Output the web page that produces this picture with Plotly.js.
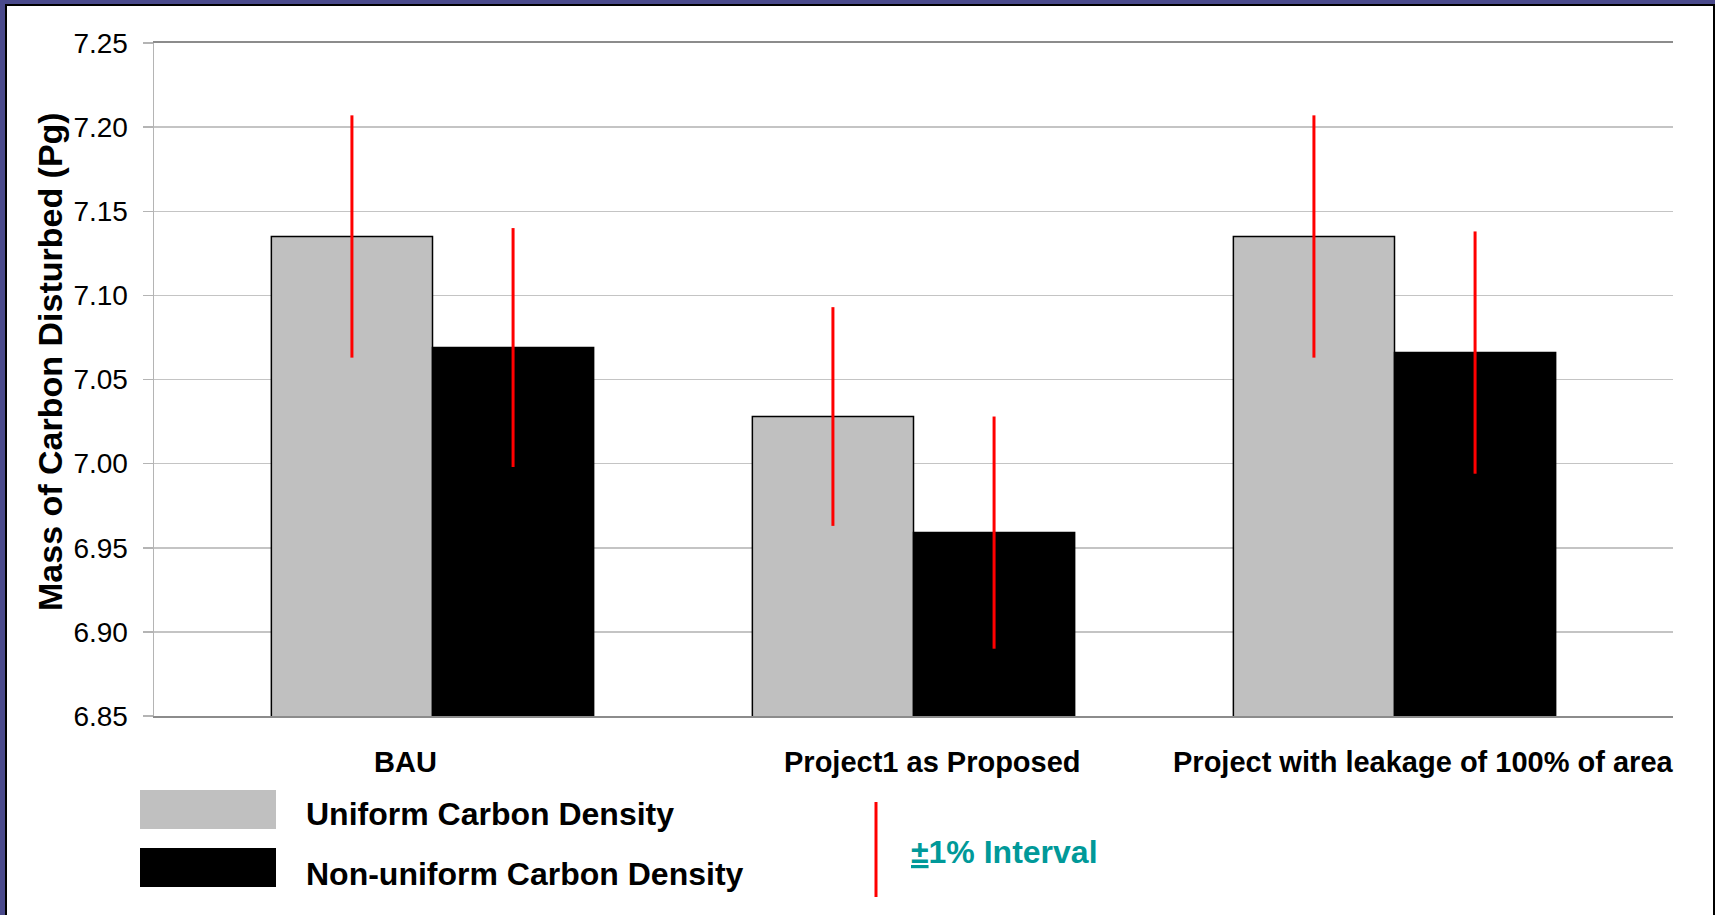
<!DOCTYPE html>
<html><head><meta charset="utf-8">
<script src="https://cdn.plot.ly/plotly-3.0.1.min.js"></script>
<style>
html,body{margin:0;padding:0;width:1715px;height:915px;overflow:hidden;background:#4a4a8c;}
#frame{position:absolute;left:5px;top:4px;width:1706px;height:909px;border-left:2px solid #000;border-top:2px solid #000;border-right:2px solid #000;background:#fff;}
#chart{width:1706px;height:909px;}
</style></head><body><div id="frame"><div id="chart"></div></div>
<script>
// ---- data ----
const categories = ["BAU", "Project1 as Proposed", "Project with leakage of 100% of area"];
const uniformName = "Uniform Carbon Density";
const nonUniformName = "Non-uniform Carbon Density";
const uniformValues = [7.135, 7.028, 7.135];
const nonUniformValues = [7.069, 6.959, 7.066];
const uniformErr = [0.072, 0.065, 0.072];
const nonUniformErr = [0.071, 0.069, 0.072];
const yTickVals = [6.85, 6.90, 6.95, 7.00, 7.05, 7.10, 7.15, 7.20, 7.25];
const yTitle = "Mass of Carbon Disturbed (Pg)";
const intervalLabel = "<u>±</u>1% Interval";

// ---- layout helpers (pixel -> paper, inner chart coords) ----
const W = 1706, H = 909, ML = 147, MR = 40, MT = 37, MB = 199;
const PW = W - ML - MR, PH = H - MT - MB;
const px = X => (X - ML) / PW;
const py = Y => (MT + PH - Y) / PH;
const FONT = '"Liberation Sans", Arial, sans-serif';

const traces = [
  {type:'bar', name:uniformName, x:[0,1,2], y:uniformValues,
   marker:{color:'#c0c0c0', line:{color:'#000', width:1.5}},
   error_y:{type:'data', array:uniformErr, visible:true, color:'#ff0000', thickness:3, width:0},
   hoverinfo:'y'},
  {type:'bar', name:nonUniformName, x:[0,1,2], y:nonUniformValues,
   marker:{color:'#000000', line:{color:'#000', width:1.5}},
   error_y:{type:'data', array:nonUniformErr, visible:true, color:'#ff0000', thickness:3, width:0},
   hoverinfo:'y'}
];

const labelShift = [-27, 19, 29];
const annotations = categories.map((c, i) => ({
  text:'<b>' + c + '</b>', x:i, xref:'x', y:0, yref:'paper', yshift:-46,
  xshift:labelShift[i], showarrow:false, xanchor:'center', yanchor:'middle',
  font:{family:FONT, size:29, color:'#000'}
}));
annotations.push(
  {text:'<b>' + yTitle + '</b>', x:px(43), y:py(356), xref:'paper', yref:'paper',
   textangle:-90, showarrow:false, xanchor:'center', yanchor:'middle',
   font:{family:FONT, size:34, color:'#000'}},
  {text:'<b>' + uniformName + '</b>', x:px(297), y:py(808), xref:'paper', yref:'paper',
   showarrow:false, xanchor:'left', yanchor:'middle', font:{family:FONT, size:32, color:'#000'}},
  {text:'<b>' + nonUniformName + '</b>', x:px(297), y:py(868), xref:'paper', yref:'paper',
   showarrow:false, xanchor:'left', yanchor:'middle', font:{family:FONT, size:32, color:'#000'}},
  {text:'<b>' + intervalLabel + '</b>', x:px(902), y:py(846), xref:'paper', yref:'paper',
   showarrow:false, xanchor:'left', yanchor:'middle', font:{family:FONT, size:32, color:'#009999'}}
);

const shapes = [
  {type:'rect', xref:'paper', yref:'paper', x0:px(133), x1:px(269), y0:py(823), y1:py(784),
   fillcolor:'#c0c0c0', line:{width:0}},
  {type:'rect', xref:'paper', yref:'paper', x0:px(133), x1:px(269), y0:py(881), y1:py(842),
   fillcolor:'#000000', line:{width:0}},
  {type:'line', xref:'paper', yref:'paper', x0:px(869), x1:px(869), y0:py(891), y1:py(796),
   line:{color:'#ff0000', width:3}}
];

const layout = {
  width:W, height:H,
  margin:{l:ML, r:MR, t:MT, b:MB, pad:0},
  paper_bgcolor:'#ffffff', plot_bgcolor:'#ffffff',
  font:{family:FONT, color:'#000'},
  showlegend:false,
  barmode:'group', bargap:0.33, bargroupgap:0,
  xaxis:{range:[-0.579, 2.579], showticklabels:false, ticks:'', showgrid:false, zeroline:false,
    showline:true, linecolor:'#8c8c8c', linewidth:2, mirror:true, fixedrange:true},
  yaxis:{range:[6.85, 7.25], tickvals:yTickVals, tickformat:'.2f', ticks:'outside', ticklen:10,
    tickcolor:'#b4b4b4', tickwidth:1.5, showgrid:true, gridcolor:'#c4c4c4', gridwidth:1.5,
    zeroline:false, showline:true, linecolor:'#b4b4b4', linewidth:1.5,
    tickfont:{family:FONT, size:28, color:'#000'}, ticklabelstandoff:9, fixedrange:true},
  annotations:annotations,
  shapes:shapes
};

Plotly.newPlot('chart', traces, layout, {displayModeBar:false, staticPlot:true});
</script></body></html>
